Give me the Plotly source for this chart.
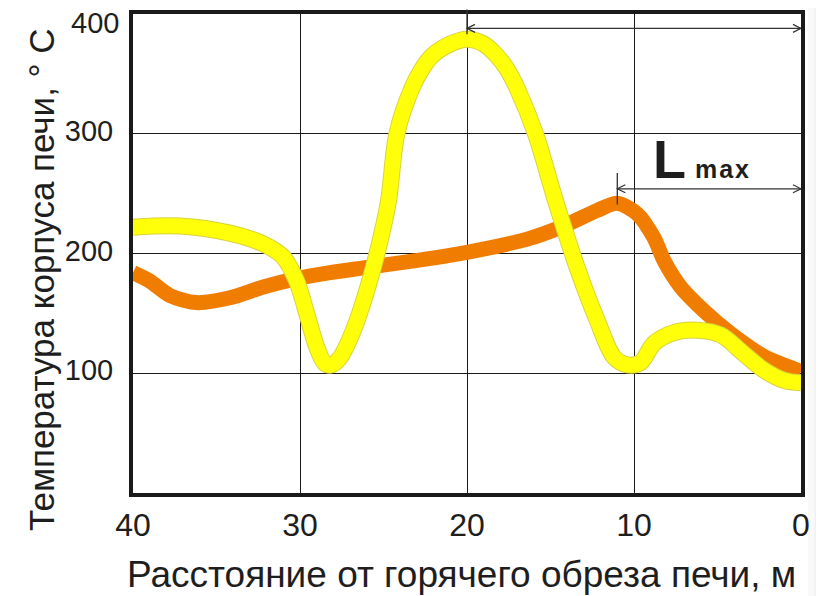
import plotly.graph_objects as go

# Distance from hot end of kiln, m  /  shell temperature, °C
orange_dist = [40, 39, 37.8, 36.2, 34.2, 32.2, 30.2, 28.2, 26.2, 23.6, 20, 16.4, 14.2, 12.2, 11.0,
               9.8, 8.8, 8.2, 7.2, 5.8, 4.2, 2.2, 0.2, 0]
orange_temp = [184, 177, 165, 159, 163, 172, 179, 184, 188, 193, 201, 212, 223, 236, 242,
               233, 213, 194, 172, 152, 133, 114, 102.5, 101]

yellow_dist = [40, 37.2, 34.2, 32.2, 31.0, 30.2, 29.6, 29.0, 28.5, 28.1, 27.6, 26.8, 26.0, 25.3,
               24.7, 24.2, 23.3, 22.7, 22.1, 21.0, 20, 19.0, 18.2, 17.6, 17.0, 15.9, 14.7, 14.2,
               13.4, 12.2, 11.2, 10.4, 9.6, 8.8, 7.6, 6.2, 4.8, 3.4, 2.2, 1.0, 0]
yellow_temp = [222, 223, 217, 208, 197, 177, 150, 122, 108, 107, 113, 136, 169, 205,
               244, 300, 338, 354, 365, 375, 379, 375, 365, 354, 338, 300, 244, 222,
               188, 144, 113.5, 107, 109, 125, 134, 136, 132, 116, 102.5, 94, 92]

x_ticks = [40, 30, 20, 10, 0]
y_ticks = [100, 200, 300]
y_top_tick = 400

x_title = "Расстояние от горячего обреза печи, м"
y_title = "Температура корпуса печи, ° C"

peak_yellow_x, top_arrow_y = 20, 388
peak_orange_x, lmax_arrow_y = 11, 254

FONT = "Liberation Sans, Arial, sans-serif"
TXT = "#1e1e1e"

fig = go.Figure()
fig.add_trace(go.Scatter(x=orange_dist, y=orange_temp, mode="lines",
                         line=dict(color="#F07D00", width=15, shape="spline", smoothing=0.8),
                         hoverinfo="skip"))
fig.add_trace(go.Scatter(x=yellow_dist, y=yellow_temp, mode="lines",
                         line=dict(color="#D9D23C", width=17, shape="spline", smoothing=0.9),
                         hoverinfo="skip"))
fig.add_trace(go.Scatter(x=yellow_dist, y=yellow_temp, mode="lines",
                         line=dict(color="#FFFF0A", width=15, shape="spline", smoothing=0.9),
                         hoverinfo="skip"))

shapes = []
shapes.append(dict(type="line", xref="x", yref="y", x0=peak_yellow_x, x1=0,
                   y0=top_arrow_y, y1=top_arrow_y, line=dict(color="#333", width=1.2)))
shapes.append(dict(type="line", xref="x", yref="y", x0=peak_orange_x, x1=0,
                   y0=lmax_arrow_y, y1=lmax_arrow_y, line=dict(color="#333", width=1.2)))
for xa, ya, d in [(peak_yellow_x, top_arrow_y, 1), (0, top_arrow_y, -1),
                  (peak_orange_x, lmax_arrow_y, 1), (0, lmax_arrow_y, -1)]:
    shapes.append(dict(type="path", xref="x", yref="y", xsizemode="pixel", ysizemode="pixel",
                       xanchor=xa, yanchor=ya,
                       path=f"M {8*d},4 L 0,0 L {8*d},-4",
                       line=dict(color="#333", width=1.2)))
for x0, op in [(1.01, 0.025), (1.02, 0.03), (1.03, 0.035)]:
    shapes.append(dict(type="rect", xref="paper", yref="paper", x0=x0, x1=1.05, y0=-0.25, y1=1.05,
                       fillcolor="#000", opacity=op, line=dict(width=0), layer="below"))

annotations = [
    dict(x=peak_yellow_x, y=383, xref="x", yref="y", text="", showarrow=True,
         ax=0, ay=-28, arrowhead=0, arrowwidth=1.3, arrowcolor="#333"),
    dict(x=peak_orange_x, y=241, xref="x", yref="y", text="", showarrow=True,
         ax=0, ay=-33, arrowhead=0, arrowwidth=1.3, arrowcolor="#333"),
    dict(x=5.9, y=252, xref="x", yref="y", yanchor="bottom", xanchor="center",
         text="<b>L<span style='font-size:25px;letter-spacing:2px'> max</span></b>",
         showarrow=False, font=dict(family=FONT, size=54, color=TXT)),
    dict(x=0.4925, y=-0.17, xref="paper", yref="paper", xanchor="center", yanchor="middle",
         text=x_title, showarrow=False, font=dict(family=FONT, size=37, color=TXT)),
    dict(x=-0.136, y=0.445, xref="paper", yref="paper", xanchor="center", yanchor="middle",
         text=y_title, textangle=-90, showarrow=False,
         font=dict(family=FONT, size=35, color=TXT)),
    dict(x=0, xref="paper", xanchor="right", xshift=-12, y=y_top_tick, yref="y", yshift=-9,
         yanchor="middle", text=str(y_top_tick), showarrow=False,
         font=dict(family=FONT, size=29, color=TXT)),
]

fig.update_layout(
    width=816, height=588,
    margin=dict(l=125, r=23, t=6, b=103, autoexpand=False),
    paper_bgcolor="white", plot_bgcolor="white",
    showlegend=False,
    shapes=shapes, annotations=annotations,
    font=dict(family=FONT, color=TXT),
)
fig.update_xaxes(range=[40, 0], tickvals=x_ticks, ticktext=[str(v) for v in x_ticks],
                 automargin=False, ticklabeloverflow="allow",
                 showgrid=True, gridcolor="#1a1a1a", gridwidth=1.3,
                 showline=True, linecolor="#1a1a1a", linewidth=4, mirror=True,
                 ticks="", ticklabelstandoff=1, zeroline=False,
                 tickfont=dict(family=FONT, size=32, color=TXT))
fig.update_yaxes(range=[0, 400], tickvals=y_ticks, ticktext=[str(v) for v in y_ticks],
                 automargin=False, ticklabeloverflow="allow",
                 showgrid=True, gridcolor="#1a1a1a", gridwidth=1.3,
                 showline=True, linecolor="#1a1a1a", linewidth=4, mirror=True,
                 ticks="", ticklabelstandoff=10, ticklabelshift=-3, zeroline=False,
                 tickfont=dict(family=FONT, size=29, color=TXT))

fig.write_html("out.html")
